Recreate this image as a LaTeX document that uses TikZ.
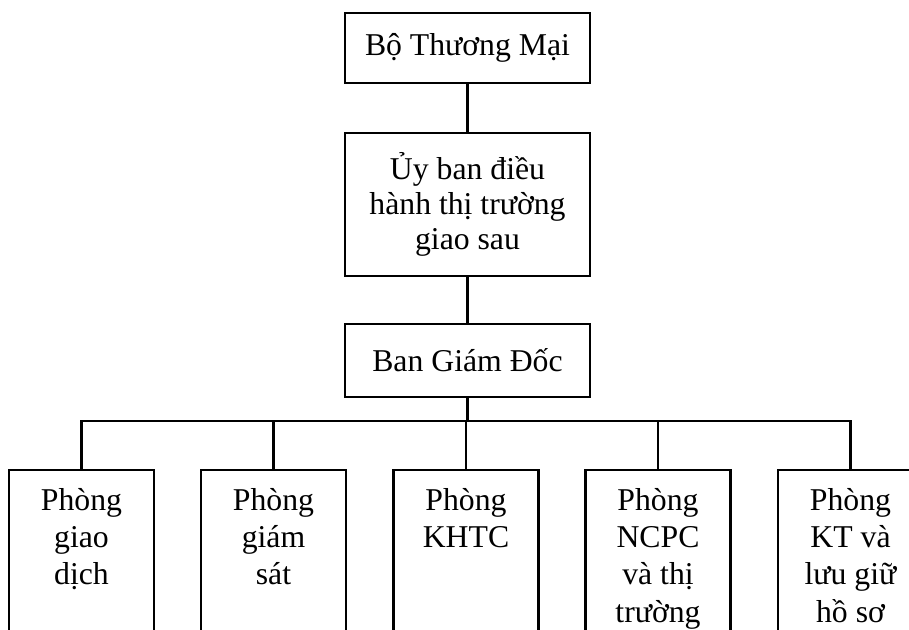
\documentclass[tikz,border=0pt]{standalone}
\usepackage{fontspec}
\setmainfont{Liberation Serif}
\begin{document}
\begin{tikzpicture}[x=0.75pt,y=-0.75pt,line width=1.7pt,
  topbox/.style={draw, minimum width=245*0.75pt, align=center, inner sep=0pt,
     font=\fontsize{23.8pt}{26.5pt}\selectfont},
  deptbox/.style={draw, minimum width=145*0.75pt, minimum height=220*0.75pt, anchor=north},
  depttext/.style={anchor=north, align=center, inner sep=0pt,
     font=\fontsize{23.8pt}{28pt}\selectfont}]
\useasboundingbox (0,0) rectangle (909,630);
\clip (0,0) rectangle (909,630);
\fill[white] (0,0) rectangle (909,630);
\node[topbox, minimum height=70*0.75pt] (bo) at (467.5,48) {Bộ Thương Mại};
\node[topbox, minimum height=143*0.75pt] (uy) at (467.5,204.5) {Ủy ban điều\\hành thị trường\\giao sau};
\node[topbox, minimum height=73*0.75pt] (ban) at (467.5,360.5) {Ban Giám Đốc};
\node[deptbox] (b1) at (81.5,469) {};
\node[deptbox] (b2) at (273.5,469) {};
\node[deptbox] (b3) at (466,469) {};
\node[deptbox] (b4) at (658,469) {};
\node[deptbox] (b5) at (850.5,469) {};
\node[depttext] (t1) at (81.5,487) {Phòng\\giao\\dịch};
\node[depttext] (t2) at (273.5,487) {Phòng\\giám\\sát};
\node[depttext] (t3) at (466,487) {Phòng\\KHTC};
\node[depttext] (t4) at (658,487) {Phòng\\NCPC\\và thị\\trường};
\node[depttext] (t5) at (850.5,487) {Phòng\\KT và\\lưu giữ\\hồ sơ};
\draw (bo.south) -- (uy.north);
\draw (uy.south) -- (ban.north);
\coordinate (bus) at (467.5,421);
\draw (ban.south) -- (bus);
\draw (b1.north) |- (bus) -| (b5.north);
\draw (b2.north) -- (b2.north |- bus);
\draw (b3.north) -- (b3.north |- bus);
\draw (b4.north) -- (b4.north |- bus);
\end{tikzpicture}
\end{document}
